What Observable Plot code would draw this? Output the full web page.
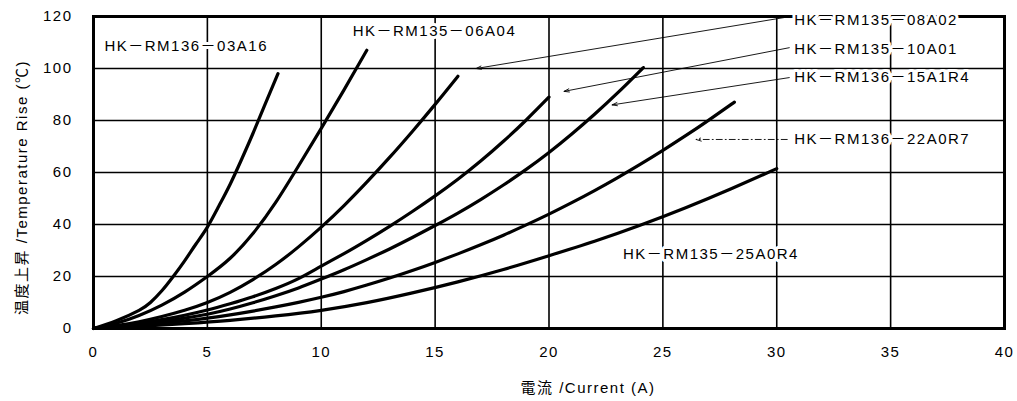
<!DOCTYPE html>
<html><head><meta charset="utf-8">
<script src="https://cdn.jsdelivr.net/npm/d3@7"></script>
<script src="https://cdn.jsdelivr.net/npm/@observablehq/plot@0.6"></script>
<style>
html,body{margin:0;padding:0;background:#fff;}
#chart svg{display:block;}
</style></head><body><div id="chart"></div>
<script>
// Series: current (A) and temperature rise (°C) for each model
const models = ["HK－RM136－03A16","HK－RM135－06A04","HK－RM135－08A02","HK－RM135－10A01","HK－RM136－15A1R4","HK－RM136－22A0R7","HK－RM135－25A0R4"];

const current03A16 = [0, 1, 2, 2.5, 3, 3.5, 4, 4.5, 5, 5.5, 6, 6.5, 7, 7.5, 8.1];
const rise03A16    = [0, 3, 7, 10, 14.5, 20, 26, 32.5, 39, 47, 55.5, 65, 75, 85.5, 98];

const current06A04 = [0, 1, 2, 3, 4, 5, 6, 7, 8, 9, 10, 11, 12];
const rise06A04    = [0, 2, 5, 9, 14, 20, 27, 36.5, 48.5, 62.5, 77, 91.8, 107];

const current08A02 = [0, 1, 2, 3, 4, 5, 6, 7, 8, 9, 10, 11, 12, 13, 14, 15, 16];
const rise08A02    = [0, 1.1, 2.6, 4.6, 7, 10, 13.9, 18.8, 24.6, 31.4, 39, 47.3, 56.3, 65.8, 75.8, 86.2, 97];

const current10A01 = [0, 1, 2, 3, 4, 5, 6, 7, 8, 9, 10, 11, 12, 13, 14, 15, 16, 17, 18, 19, 20];
const rise10A01    = [0, 0.9, 2, 3.4, 5.1, 7.1, 9.5, 12.2, 15.4, 19.2, 24, 28.8, 33.9, 39.3, 45, 51, 57.4, 64.4, 72, 80.2, 89];

const current15A1R4 = [0, 1, 2, 3, 4, 5, 6, 7, 8, 9, 10, 11, 12, 13, 14, 15, 16, 17, 18, 19, 20, 21, 22, 23, 24, 24.1];
const rise15A1R4    = [0, 0.7, 1.6, 2.7, 4, 5.5, 7.5, 9.9, 12.6, 15.6, 19, 22.6, 26.5, 30.6, 35, 39.6, 44.4, 49.6, 55.2, 61.2, 67.7, 74.8, 82.4, 90.5, 99.1, 100];

const current22A0R7 = [0, 1, 2, 3, 4, 5, 6, 7, 8, 9, 10, 11, 12, 13, 14, 15, 16, 17, 18, 19, 20, 21, 22, 23, 24, 25, 26, 27, 28, 28.1];
const rise22A0R7    = [0, 0.55, 1.25, 2.05, 2.95, 4, 5.25, 6.7, 8.3, 10.05, 12, 14.2, 16.7, 19.4, 22.3, 25.4, 28.7, 32.2, 35.9, 39.85, 44, 48.4, 53.05, 57.95, 63.1, 68.5, 74.15, 80.05, 86.2, 86.8];

const current25A0R4 = [0, 2, 4, 6, 8, 10, 12, 14, 16, 18, 20, 22, 24, 26, 28, 30];
const rise25A0R4    = [0, 0.77, 1.85, 3.15, 4.85, 7, 9.95, 13.7, 17.95, 22.7, 28, 33.55, 39.7, 46.45, 53.75, 61.5];

const seriesCurrents = [current03A16, current06A04, current08A02, current10A01, current15A1R4, current22A0R7, current25A0R4];
const seriesRises    = [rise03A16, rise06A04, rise08A02, rise10A01, rise15A1R4, rise22A0R7, rise25A0R4];

// Axis ticks and titles
const xTicks = [0, 5, 10, 15, 20, 25, 30, 35, 40];
const yTicks = [0, 20, 40, 60, 80, 100, 120];
const xTitle = "電流 /Current (A)";
const yTitle = "温度上昇 /Temperature Rise (℃)";

// Label anchors (data units) for each model name
const labelX = [0.48, 11.38, 30.77, 30.77, 30.77, 30.77, 23.25];
const labelY = [108.5, 114.2, 118.5, 107.3, 96.5, 72.7, 28.5];

// Leader arrows: from label to curve
const arrowFromX = [30.33, 30.55, 30.55, 30.46];
const arrowFromY = [119.6, 108.0, 96.5, 72.7];
const arrowToX   = [16.8, 20.66, 22.77, 26.46];
const arrowToY   = [100.0, 91.2, 86.0, 72.7];
const arrowDashed = [false, false, false, true];

const lineData = [];
seriesCurrents.forEach((xs, i) => xs.forEach((x, j) => lineData.push({model: models[i], current: x, rise: seriesRises[i][j]})));
const labelData = models.map((m, i) => ({text: m, x: labelX[i], y: labelY[i]}));
const arrowData = arrowFromX.map((x, i) => ({x1: x, y1: arrowFromY[i], x2: arrowToX[i], y2: arrowToY[i], dashed: arrowDashed[i]}));

const font = '"Liberation Sans", Arial, "Noto Sans CJK JP", sans-serif';

const chart = Plot.plot({
  width: 1017,
  height: 401,
  marginLeft: 93,
  marginRight: 13,
  marginTop: 16,
  marginBottom: 73,
  style: {fontFamily: font, fontSize: "15px", background: "#fff", color: "#000", letterSpacing: "1.5px"},
  x: {domain: [0, 40], ticks: xTicks, label: null},
  y: {domain: [0, 120], ticks: yTicks, label: null},
  marks: [
    Plot.gridX(xTicks.slice(1, -1), {stroke: "#000", strokeOpacity: 1, strokeWidth: 1.6}),
    Plot.gridY(yTicks.slice(1, -1), {stroke: "#000", strokeOpacity: 1, strokeWidth: 1.6}),
    Plot.axisX({ticks: xTicks, tickSize: 0, tickPadding: 18, fontSize: 15, label: null}),
    Plot.axisY({ticks: yTicks, tickSize: 0, tickPadding: 21, fontSize: 15, label: null}),
    Plot.line(lineData, {x: "current", y: "rise", z: "model", stroke: "#000", strokeWidth: 3.2, curve: "natural"}),
    Plot.frame({stroke: "#000", strokeWidth: 3}),
    Plot.arrow(arrowData.filter(d => !d.dashed), {x1: "x1", y1: "y1", x2: "x2", y2: "y2", stroke: "#000", strokeWidth: 0.9, headLength: 9, headAngle: 35}),
    Plot.arrow(arrowData.filter(d => d.dashed), {x1: "x1", y1: "y1", x2: "x2", y2: "y2", stroke: "#000", strokeWidth: 0.9, headLength: 9, headAngle: 35, strokeDasharray: "6,3,1,3"}),
    Plot.text(labelData, {x: "x", y: "y", text: "text", textAnchor: "start", fontSize: 15, fill: "#000", stroke: "#fff", strokeWidth: 6, paintOrder: "stroke", ariaLabel: "model-labels"}),
    Plot.text([xTitle], {frameAnchor: "bottom", lineAnchor: "middle", textAnchor: "middle", dx: 39, dy: 60, fontSize: 15, fill: "#000", ariaLabel: "x-title"}),
    Plot.text([yTitle], {frameAnchor: "left", lineAnchor: "middle", textAnchor: "middle", dx: -71, dy: 15, rotate: -90, fontSize: 15, fill: "#000", ariaLabel: "y-title"})
  ]
});
d3.select(chart).select('g[aria-label="model-labels"]').attr("letter-spacing", "2.5px");
d3.select(chart).select('g[aria-label="x-title"]').attr("letter-spacing", "1.8px");
d3.select(chart).select('g[aria-label="y-title"]').attr("letter-spacing", "1.8px");
document.getElementById("chart").appendChild(chart);
</script>
</body></html>
